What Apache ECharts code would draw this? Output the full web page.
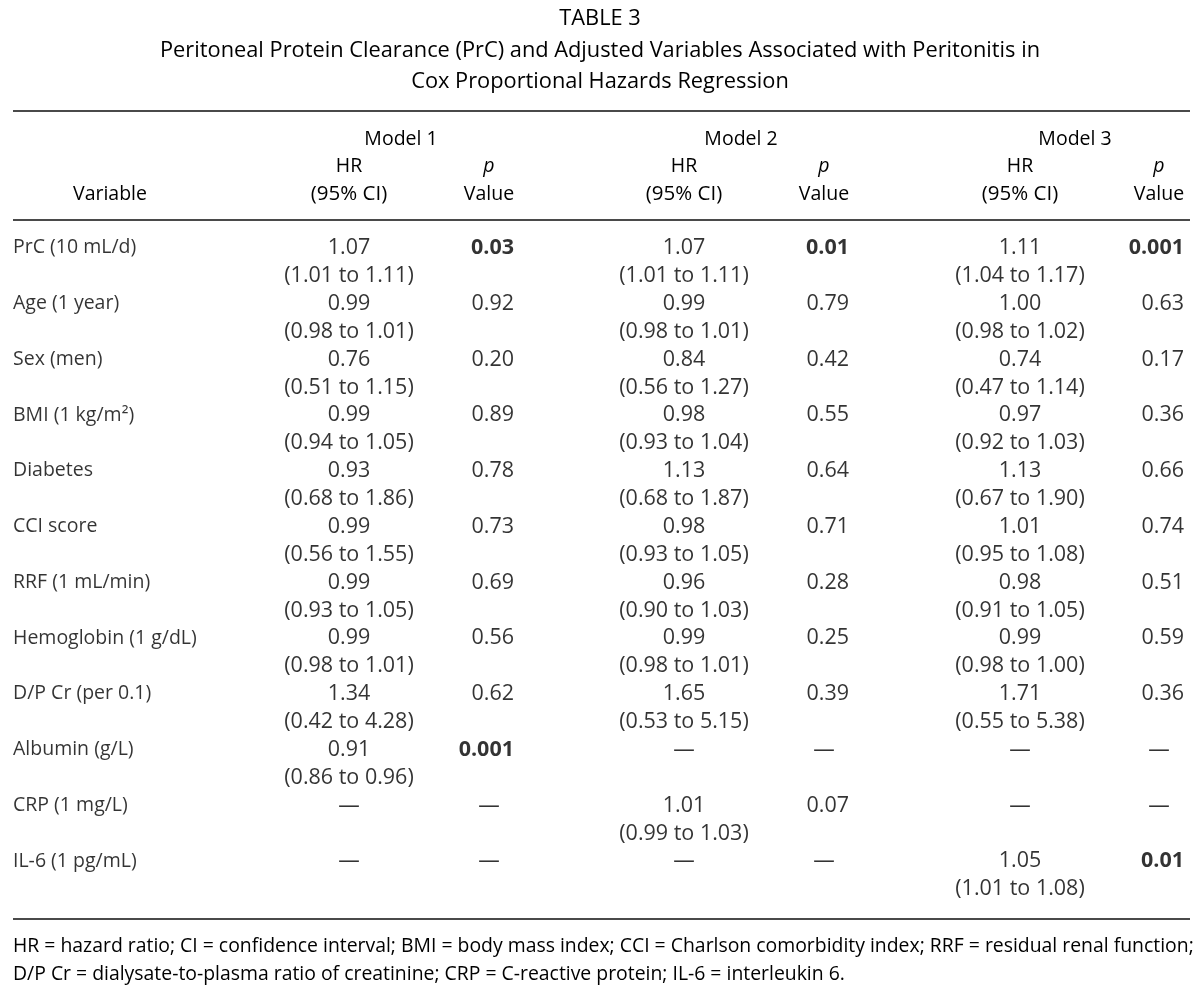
<!DOCTYPE html>
<html>
<head>
<meta charset="utf-8">
<script src="https://cdn.jsdelivr.net/npm/echarts@6/dist/echarts.min.js"></script>
<style>
html,body{margin:0;padding:0;background:#fff;}
#chart{width:1200px;height:993px;}
</style>
</head>
<body>
<div id="chart"></div>
<script>
// ---------------- DATA ----------------
const variables = ['PrC (10 mL/d)', 'Age (1 year)', 'Sex (men)', 'BMI (1 kg/m\u00B2)', 'Diabetes', 'CCI score',
  'RRF (1 mL/min)', 'Hemoglobin (1 g/dL)', 'D/P Cr (per 0.1)', 'Albumin (g/L)', 'CRP (1 mg/L)', 'IL-6 (1 pg/mL)'];
const models = ['Model 1', 'Model 2', 'Model 3'];

const m1HR  = [1.07, 0.99, 0.76, 0.99, 0.93, 0.99, 0.99, 0.99, 1.34, 0.91, null, null];
const m1Lo  = [1.01, 0.98, 0.51, 0.94, 0.68, 0.56, 0.93, 0.98, 0.42, 0.86, null, null];
const m1Hi  = [1.11, 1.01, 1.15, 1.05, 1.86, 1.55, 1.05, 1.01, 4.28, 0.96, null, null];
const m1P   = [0.03, 0.92, 0.20, 0.89, 0.78, 0.73, 0.69, 0.56, 0.62, 0.001, null, null];

const m2HR  = [1.07, 0.99, 0.84, 0.98, 1.13, 0.98, 0.96, 0.99, 1.65, null, 1.01, null];
const m2Lo  = [1.01, 0.98, 0.56, 0.93, 0.68, 0.93, 0.90, 0.98, 0.53, null, 0.99, null];
const m2Hi  = [1.11, 1.01, 1.27, 1.04, 1.87, 1.05, 1.03, 1.01, 5.15, null, 1.03, null];
const m2P   = [0.01, 0.79, 0.42, 0.55, 0.64, 0.71, 0.28, 0.25, 0.39, null, 0.07, null];

const m3HR  = [1.11, 1.00, 0.74, 0.97, 1.13, 1.01, 0.98, 0.99, 1.71, null, null, 1.05];
const m3Lo  = [1.04, 0.98, 0.47, 0.92, 0.67, 0.95, 0.91, 0.98, 0.55, null, null, 1.01];
const m3Hi  = [1.17, 1.02, 1.14, 1.03, 1.90, 1.08, 1.05, 1.00, 5.38, null, null, 1.08];
const m3P   = [0.001, 0.63, 0.17, 0.36, 0.66, 0.74, 0.51, 0.59, 0.36, null, null, 0.01];

const titleLines = ['TABLE 3',
  'Peritoneal Protein Clearance (PrC) and Adjusted Variables Associated with Peritonitis in',
  'Cox Proportional Hazards Regression'];
const footLines = [
  'HR = hazard ratio; CI = confidence interval; BMI = body mass index; CCI = Charlson comorbidity index; RRF = residual renal function;',
  'D/P Cr = dialysate-to-plasma ratio of creatinine; CRP = C-reactive protein; IL-6 = interleukin 6.'];

// ---------------- LAYOUT ----------------
const FONT = "'Open Sans', 'Noto Sans', sans-serif";
const FS = 19.5;      // text
const NFS = 21.5;     // numeric cells
const FW = 'normal';
const TXT = '#000';
const RULE = '#4a4a4a';
const L = {
  varX: 13, varHeadX: 73,
  hrX: [349, 684, 1020],
  pR: [514, 849, 1184],
  modelX: [401, 741, 1075],
  rows: {top: 234, bottom: 90},
  ruleX: [13, 1190], ruleY: [111, 220, 919],
  headY: [139, 166, 194],
  footY: 946
};

const modelData = [
  {hr: m1HR, lo: m1Lo, hi: m1Hi, p: m1P},
  {hr: m2HR, lo: m2Lo, hi: m2Hi, p: m2P},
  {hr: m3HR, lo: m3Lo, hi: m3Hi, p: m3P}
];

const fmt2 = v => v.toFixed(2);
const fmtP = v => v < 0.01 ? v.toFixed(3) : v.toFixed(2);
const DASH = '\u2014';

const series = [];
// variable names
series.push({
  type: 'scatter', symbolSize: 0, silent: true,
  itemStyle: {color: 'transparent'},
  data: variables.map(v => [L.varX, v]),
  label: {show: true, position: 'inside', align: 'left', verticalAlign: 'middle', offset: [0, -14],
    formatter: p => variables[p.dataIndex],
    fontFamily: FONT, fontSize: FS, fontWeight: FW, color: TXT}
});
modelData.forEach((m, k) => {
  series.push({
    type: 'scatter', symbolSize: 0, silent: true,
    itemStyle: {color: 'transparent'},
    data: variables.map((v, i) => [L.hrX[k], v]),
    label: {show: true, position: 'inside', align: 'center', verticalAlign: 'middle',
      lineHeight: 28, fontFamily: FONT, fontSize: NFS, fontWeight: FW, color: TXT,
      formatter: p => {
        const i = p.dataIndex;
        if (m.hr[i] == null) return DASH + '\n ';
        return fmt2(m.hr[i]) + '\n(' + fmt2(m.lo[i]) + ' to ' + fmt2(m.hi[i]) + ')';
      }}
  });
  series.push({
    type: 'scatter', symbolSize: 0, silent: true,
    itemStyle: {color: 'transparent'},
    data: variables.map((v, i) => {
      const pv = m.p[i];
      const item = {value: [L.pR[k], v], label: {}};
      if (pv == null) { item.label.align = 'center'; item.label.offset = [-25, -14]; }
      else if (pv < 0.05) { item.label.fontWeight = 'bold'; }
      return item;
    }),
    label: {show: true, position: 'inside', align: 'right', verticalAlign: 'middle', offset: [0, -14],
      fontFamily: FONT, fontSize: NFS, fontWeight: FW, color: TXT,
      formatter: p => {
        const v = m.p[p.dataIndex];
        return v == null ? DASH : fmtP(v);
      }}
  });
});

const txt = (x, y, s, align, font) => ({
  type: 'text', x: x, y: y, silent: true,
  style: {text: s, fill: TXT, font: font || (FS + 'px ' + FONT), textAlign: align, textVerticalAlign: 'middle'}
});

const graphics = [];
L.ruleY.forEach(y => graphics.push({type: 'line', silent: true,
  shape: {x1: L.ruleX[0], y1: y, x2: L.ruleX[1], y2: y}, style: {stroke: RULE, lineWidth: 2}}));
titleLines.forEach((s, i) => graphics.push(txt(600, 19 + i * 31.5, s, 'center', '21.8px ' + FONT)));
graphics.push(txt(L.varHeadX, L.headY[2], 'Variable', 'left'));
models.forEach((s, k) => {
  graphics.push(txt(L.modelX[k], L.headY[0], s, 'center'));
  graphics.push(txt(L.hrX[k], L.headY[1], 'HR', 'center'));
  graphics.push(txt(L.hrX[k], L.headY[2], '(95% CI)', 'center', '20.5px ' + FONT));
  graphics.push(txt(L.pR[k] - 25, L.headY[1], 'p', 'center', 'italic ' + FS + 'px ' + FONT));
  graphics.push(txt(L.pR[k] - 25, L.headY[2], 'Value', 'center'));
});
footLines.forEach((s, i) => graphics.push(txt(L.varX, L.footY + i * 28, s, 'left', '19.4px ' + FONT)));

const chart = echarts.init(document.getElementById('chart'), null, {renderer: 'canvas'});
chart.setOption({
  animation: false,
  backgroundColor: '#fff',
  grid: {left: 0, right: 0, top: L.rows.top, bottom: L.rows.bottom},
  xAxis: {type: 'value', min: 0, max: 1200, show: false},
  yAxis: {type: 'category', data: variables, inverse: true, show: false},
  series: series,
  graphic: graphics
});
</script>
</body>
